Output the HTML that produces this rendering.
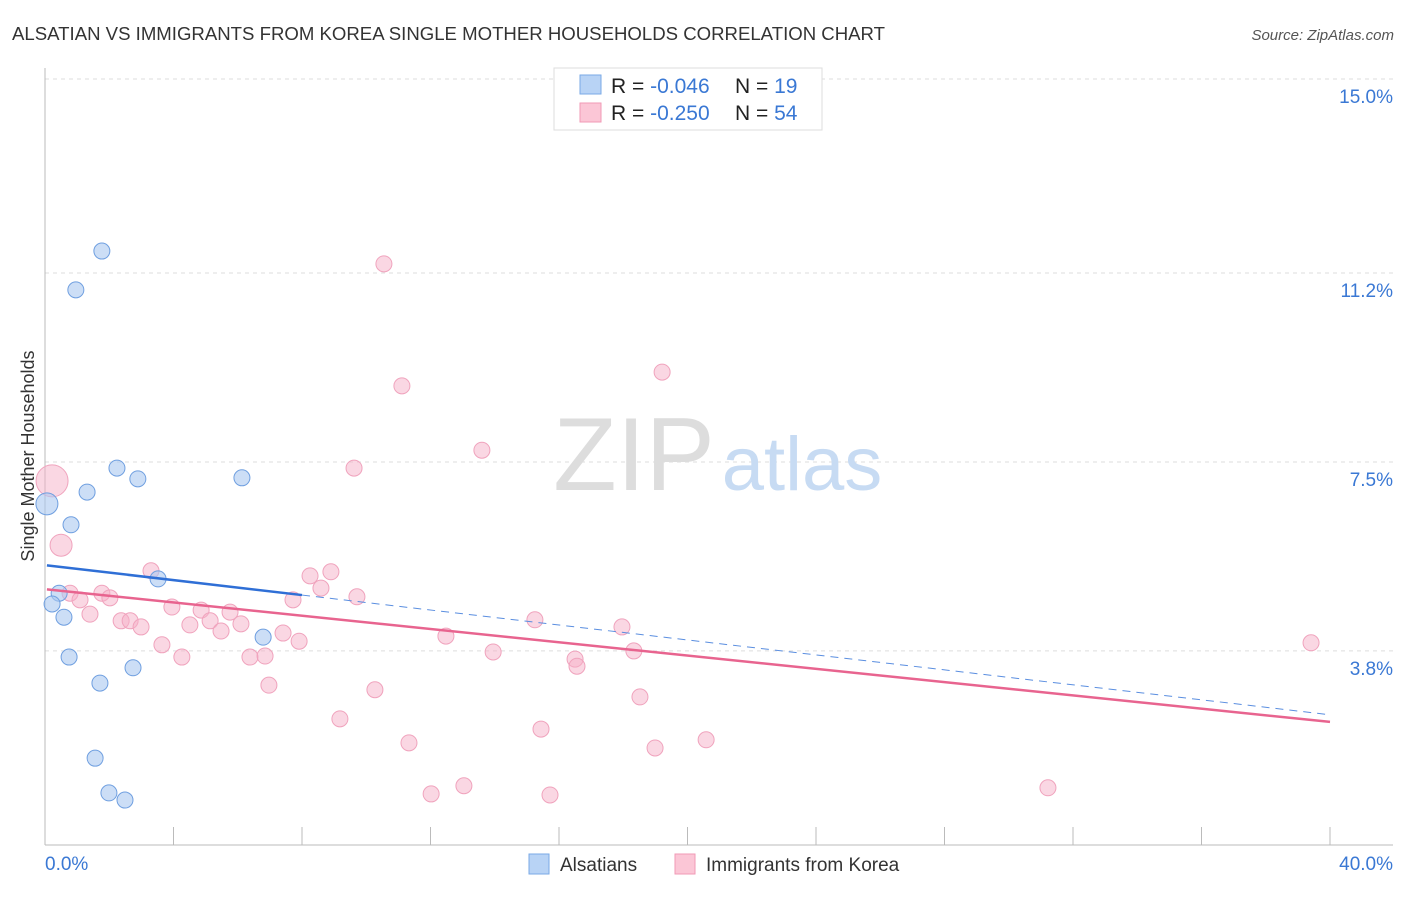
<!DOCTYPE html>
<html><head><meta charset="utf-8"><style>
body{margin:0;background:#fff;font-family:"Liberation Sans",sans-serif;}
svg text{font-family:"Liberation Sans",sans-serif;}
</style></head><body>
<svg id="chart" width="1406" height="892">
<text x="12" y="40" font-size="18" fill="#333" textLength="873" lengthAdjust="spacingAndGlyphs">ALSATIAN VS IMMIGRANTS FROM KOREA SINGLE MOTHER HOUSEHOLDS CORRELATION CHART</text>
<text x="1394" y="40" font-size="15" fill="#555" font-style="italic" text-anchor="end">Source: ZipAtlas.com</text>
<g id="grid"></g>
<text x="634" y="490" font-size="104" fill="#ddd" font-family="Liberation Serif" text-anchor="middle">ZIP</text>
<text x="802" y="490" font-size="76" fill="#c7dbf3" text-anchor="middle">atlas</text>
<text transform="translate(34,456) rotate(-90)" font-size="18" fill="#333" text-anchor="middle">Single Mother Households</text>
<g id="marks"></g>
<g>
<rect x="554" y="68" width="268" height="62" fill="#fff" stroke="#ddd"/>
<rect x="580" y="75" width="21" height="19" fill="#b8d3f5" stroke="#7aa9e6"/>
<rect x="580" y="103" width="21" height="19" fill="#fbc6d6" stroke="#f09ab6"/>
<text x="611" y="93" font-size="21" fill="#222">R = <tspan fill="#3a78d4">-0.046</tspan></text>
<text x="735" y="93" font-size="21" fill="#222">N = <tspan fill="#3a78d4"> 19</tspan></text>
<text x="611" y="120" font-size="21" fill="#222">R = <tspan fill="#3a78d4">-0.250</tspan></text>
<text x="735" y="120" font-size="21" fill="#222">N = <tspan fill="#3a78d4">54</tspan></text>
</g>
<g>
<rect x="529" y="854" width="20" height="20" fill="#b8d3f5" stroke="#7aa9e6"/>
<text x="560" y="871" font-size="19" fill="#333">Alsatians</text>
<rect x="675" y="854" width="20" height="20" fill="#fbc6d6" stroke="#f09ab6"/>
<text x="706" y="871" font-size="19" fill="#333">Immigrants from Korea</text>
</g>
</svg>
<script>
const yTicks=[3.8,7.5,11.2,15.0];
const yTickLabels=["3.8%","7.5%","11.2%","15.0%"];
const xTickLabels=["0.0%","40.0%"];
const blueX=[1.77,0.96,2.24,2.89,1.31,6.13,0.06,0.81,3.52,0.44,0.22,0.59,6.79,0.75,2.74,1.71,1.56,1.99,2.49];
const blueY=[11.63,10.87,7.38,7.17,6.91,7.19,6.68,6.27,5.21,4.93,4.72,4.46,4.07,3.68,3.47,3.17,1.70,1.02,0.88];
const blueR=[8,8,8,8,8,8,11,8,8,8,8,8,8,8,8,8,8,8,8];
const pinkX=[10.55,11.11,19.21,13.60,9.62,0.22,0.50,3.30,8.90,8.25,8.59,9.71,7.72,0.78,1.09,1.77,2.02,1.40,3.95,4.86,5.76,2.37,2.65,2.99,4.51,5.14,5.48,6.10,7.41,7.91,3.64,4.26,6.38,6.85,12.48,13.95,15.25,17.96,16.50,16.56,18.33,6.97,10.27,18.52,9.18,15.44,11.33,18.99,20.58,12.02,13.04,15.72,31.22,39.41];
const pinkY=[11.38,8.99,9.26,7.73,7.38,7.13,5.87,5.37,5.35,5.27,5.03,4.86,4.80,4.93,4.80,4.93,4.84,4.52,4.66,4.60,4.56,4.39,4.39,4.27,4.31,4.39,4.19,4.33,4.15,3.99,3.92,3.68,3.68,3.70,4.09,3.78,4.41,4.27,3.64,3.50,3.80,3.13,3.04,2.90,2.47,2.27,2.00,1.90,2.06,1.00,1.16,0.98,1.12,3.96];
const pinkR=[8,8,8,8,8,16,11];
const blueTrend=[5.48,2.55];
const pinkTrend=[5.01,2.41];
const NS="http://www.w3.org/2000/svg";
const sx=v=>45+v*32.125, sy=v=>845-v*51.07;
function mk(parent,tag,attrs){const e=document.createElementNS(NS,tag);for(const k in attrs)e.setAttribute(k,attrs[k]);document.getElementById(parent).appendChild(e);return e;}
yTicks.forEach((t,i)=>{
 const l=mk('grid','line',{x1:45,x2:1393,y1:sy(t),y2:sy(t),stroke:'#ddd','stroke-dasharray':'4,4'});
 
 
 const tx=mk('grid','text',{x:1393,y:sy(t)+24,'font-size':19,fill:'#3a78d4','text-anchor':'end'});tx.textContent=yTickLabels[i];
 
 
});
const ax=mk('grid','line',{x1:45,x2:45,y1:68,y2:845,stroke:'#bbb'});


const bx=mk('grid','line',{x1:45,x2:1393,y1:845,y2:845,stroke:'#bbb'});


for(let i=0;i<=10;i++){const t=mk('grid','line',{x1:sx(i*4),x2:sx(i*4),y1:827,y2:845,stroke:'#bbb'});
 
 }
const xl0=mk('grid','text',{x:45,y:870,'font-size':19,fill:'#3a78d4'});xl0.textContent=xTickLabels[0];


const xl1=mk('grid','text',{x:1393,y:870,'font-size':19,fill:'#3a78d4','text-anchor':'end'});xl1.textContent=xTickLabels[1];


pinkX.forEach((x,i)=>{const c=mk('marks','circle',{cx:sx(x),cy:sy(pinkY[i]),r:pinkR[i]||8,fill:'rgba(246,176,200,0.5)',stroke:'#f0a3bd','stroke-width':1});
 
 });
blueX.forEach((x,i)=>{const c=mk('marks','circle',{cx:sx(x),cy:sy(blueY[i]),r:blueR[i],fill:'rgba(170,200,240,0.6)',stroke:'#6f9fe0','stroke-width':1});
 
 });
const bt=v=>blueTrend[0]+(blueTrend[1]-blueTrend[0])*v/40, pt=v=>pinkTrend[0]+(pinkTrend[1]-pinkTrend[0])*v/40;
const l1=mk('marks','line',{x1:sx(8),y1:sy(bt(8)),x2:sx(40),y2:sy(bt(40)),stroke:'#5a8ee0','stroke-width':1,'stroke-dasharray':'8,6'});


const l2=mk('marks','line',{x1:sx(0.06),y1:sy(pt(0.06)),x2:sx(40),y2:sy(pt(40)),stroke:'#e8648f','stroke-width':2.5});


const l3=mk('marks','line',{x1:sx(0.06),y1:sy(bt(0.06)),x2:sx(8),y2:sy(bt(8)),stroke:'#2f6fd6','stroke-width':2.5});


</script>
</body></html>
